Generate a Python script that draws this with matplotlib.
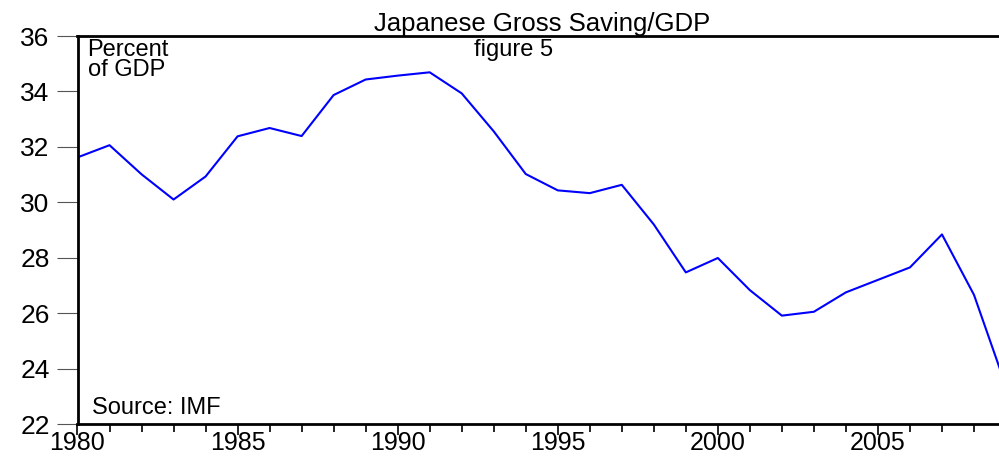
import matplotlib
matplotlib.use("Agg")
import matplotlib.pyplot as plt
from matplotlib.ticker import MultipleLocator

plt.rcParams['font.family'] = ['Liberation Sans', 'DejaVu Sans']

# dados
anos = list(range(1980, 2010))
poupanca = [31.62, 32.06, 31.01, 30.10, 30.93, 32.38, 32.68, 32.39, 33.87, 34.43,
            34.57, 34.69, 33.93, 32.56, 31.02, 30.43, 30.33, 30.63, 29.20, 27.47,
            27.99, 26.83, 25.91, 26.05, 26.75, 27.20, 27.65, 28.84, 26.66, 23.36]
yticks = [22, 24, 26, 28, 30, 32, 34, 36]
xticks = [1980, 1985, 1990, 1995, 2000, 2005]

W, H = 999, 457
fig = plt.figure(figsize=(W / 100, H / 100), dpi=100)
left, right, top, bottom = 77.5, 1006, 36, 424
ax = fig.add_axes([left / W, (H - bottom) / H, (right - left) / W, (bottom - top) / H])

ax.plot(anos, poupanca, color="#0000ff", linewidth=1.5)

ax.set_xlim(1980, 2009)
ax.set_ylim(22, 36)
ax.set_xticks(xticks)
ax.set_yticks(yticks)
ax.xaxis.set_minor_locator(MultipleLocator(1))

for s in ["left", "top", "bottom"]:
    ax.spines[s].set_linewidth(2)
ax.spines["right"].set_visible(False)

ax.tick_params(axis="y", direction="out", length=15, width=0.8, color="#555555",
               labelsize=19, pad=5)
ax.tick_params(axis="x", which="major", direction="out", length=8, width=1.2,
               labelsize=18, pad=-3)
ax.tick_params(axis="x", which="minor", direction="out", length=6, width=1.2)

ax.set_title("Japanese Gross Saving/GDP", fontsize=18.5, pad=3)

ax.text(10 / (right - left), 0.992, "Percent\nof GDP", transform=ax.transAxes,
        fontsize=17, va="top", ha="left", linespacing=0.85)
ax.text((514 - left) / (right - left), 0.992, "figure 5", transform=ax.transAxes,
        fontsize=17, va="top", ha="center")
ax.text(15 / (right - left), 0.012, "Source: IMF", transform=ax.transAxes,
        fontsize=17, va="bottom", ha="left")

fig.savefig("out.png", dpi=100)
